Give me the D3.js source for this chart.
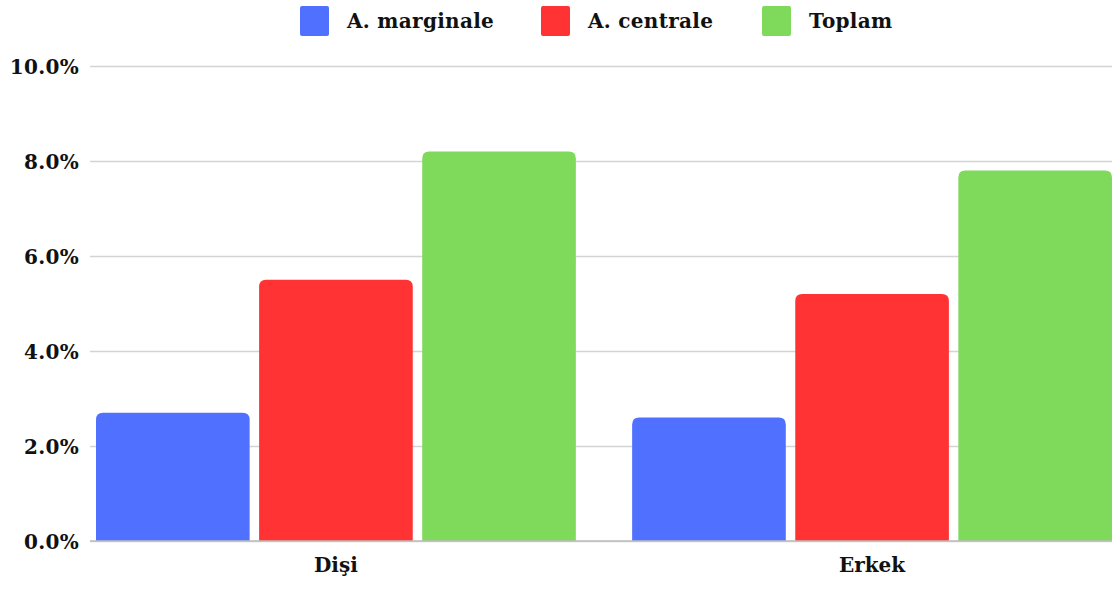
<!DOCTYPE html>
<html>
<head>
<meta charset="utf-8">
<script src="https://cdn.jsdelivr.net/npm/d3@7"></script>
<style>
  body { margin: 0; background: #fff; }
  text { font-family: "DejaVu Serif", serif; font-weight: bold; fill: #111; }
</style>
</head>
<body>
<div id="chart"></div>
<script>
// data
let categories = ["Dişi", "Erkek"];
let seriesNames = ["A. marginale", "A. centrale", "Toplam"];
let seriesColors = ["#5070ff", "#ff3333", "#7fd95a"];
let marginaleValues = [2.7, 2.6];
let centraleValues = [5.5, 5.2];
let toplamValues = [8.2, 7.8];
let yTicks = [0, 2, 4, 6, 8, 10];

let width = 1120, height = 592;
let margin = { top: 66, right: 8, bottom: 51, left: 96 };

let svg = d3.select("#chart")
    .append("svg")
    .attr("width", width)
    .attr("height", height);

let allValues = [marginaleValues, centraleValues, toplamValues];

// scales
let x0 = d3.scaleBand()
    .domain(categories)
    .range([margin.left, width - margin.right])
    .paddingInner(0.105)
    .paddingOuter(0);

let x1 = d3.scaleBand()
    .domain(seriesNames)
    .range([0, x0.bandwidth()])
    .paddingInner(0.058);

let y = d3.scaleLinear()
    .domain([0, 10])
    .range([height - margin.bottom, margin.top]);

// gridlines
let grid = svg.append("g")
    .attr("transform", "translate(" + (margin.left - 6) + ",0)")
    .call(d3.axisLeft(y).tickValues(yTicks).tickSize(-(width - margin.right - margin.left + 6)).tickFormat(""));
grid.select(".domain").remove();
grid.selectAll("line").attr("stroke", "#d4d4d4").attr("stroke-width", 1.5);

// y labels
let yAxis = svg.append("g")
    .attr("transform", "translate(" + (margin.left - 17) + ",0)")
    .call(d3.axisLeft(y).tickValues(yTicks).tickSize(0).tickFormat(d => d.toFixed(1) + "%"));
yAxis.select(".domain").remove();
yAxis.selectAll("text")
    .attr("x", 0)
    .attr("dy", "0.35em")
    .style("font-size", "20px")
    .style("letter-spacing", "0.3px");

// bars with rounded tops
function topRounded(x, yTop, w, h, r) {
    r = Math.min(r, h, w / 2);
    return "M" + x + "," + (yTop + h) +
        "V" + (yTop + r) +
        "Q" + x + "," + yTop + " " + (x + r) + "," + yTop +
        "H" + (x + w - r) +
        "Q" + (x + w) + "," + yTop + " " + (x + w) + "," + (yTop + r) +
        "V" + (yTop + h) + "Z";
}

categories.forEach((cat, ci) => {
    let g = svg.append("g").attr("transform", "translate(" + x0(cat) + ",0)");
    seriesNames.forEach((s, si) => {
        let v = allValues[si][ci];
        g.append("path")
            .attr("d", topRounded(x1(s), y(v), x1.bandwidth(), y(0) - y(v), 7))
            .attr("fill", seriesColors[si]);
    });
});

// baseline
svg.append("line")
    .attr("x1", margin.left - 6).attr("x2", width - margin.right)
    .attr("y1", y(0)).attr("y2", y(0))
    .attr("stroke", "#bdbdbd").attr("stroke-width", 1.5);

// x labels
let xAxis = svg.append("g")
    .attr("transform", "translate(0," + y(0) + ")")
    .call(d3.axisBottom(x0).tickSize(0));
xAxis.select(".domain").remove();
xAxis.selectAll("text")
    .attr("dy", "1.4em")
    .style("font-size", "20px");

// legend
let legendX = [300, 541, 762];
let legend = svg.append("g");
seriesNames.forEach((s, i) => {
    legend.append("rect")
        .attr("x", legendX[i]).attr("y", 6)
        .attr("width", 29).attr("height", 30)
        .attr("rx", 2)
        .attr("fill", seriesColors[i]);
    legend.append("text")
        .attr("x", legendX[i] + 47).attr("y", 28)
        .style("font-size", "20px")
        .style("letter-spacing", "0.3px")
        .text(s);
});
</script>
</body>
</html>
